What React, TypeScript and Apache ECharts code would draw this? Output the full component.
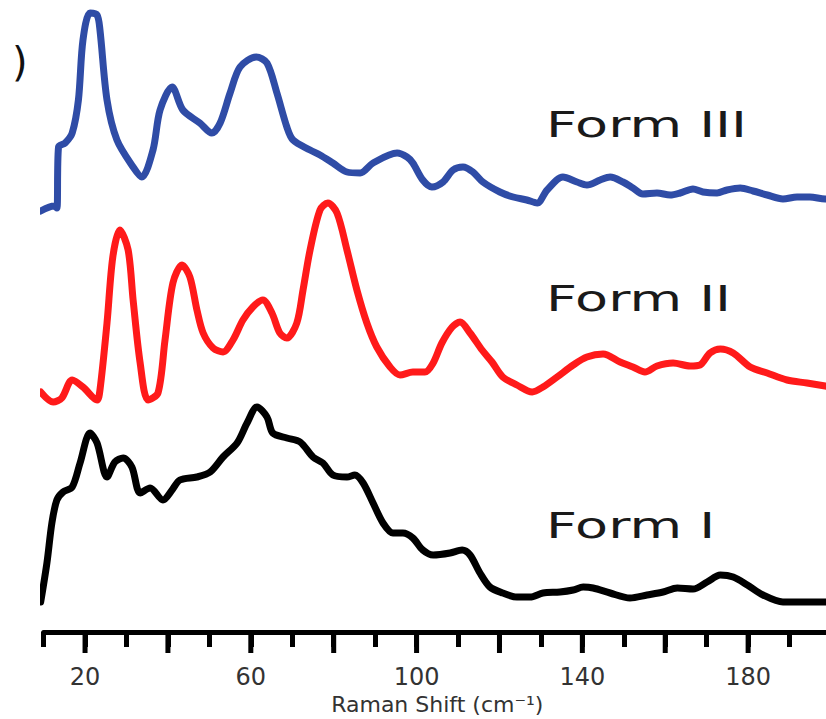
import React, { useEffect, useRef } from "react";
import * as echarts from "echarts";

// Raman shift (cm-1) and relative intensity (arbitrary, offset stacked units)
const formIII: [number, number][] = [
  [9.3, 421], [12.5, 426], [13.2, 424], [13.6, 485], [15.2, 489], [16.9, 499],
  [18.4, 532], [19.5, 592], [21.2, 619], [22.9, 617], [23.6, 602], [25.3, 532],
  [27.7, 492], [31.6, 465], [33.7, 455], [36.4, 482], [38.1, 522], [41.0, 545],
  [43.6, 522], [47.7, 509], [50.6, 499], [52.6, 509], [55.0, 539], [57.4, 565],
  [61.3, 575], [63.9, 569], [66.3, 539], [68.7, 505], [70.2, 492], [74.3, 482],
  [76.7, 477], [79.8, 469], [83.2, 460], [86.4, 459], [89.5, 469], [95.3, 479],
  [97.7, 475], [99.1, 469], [101.5, 452], [103.7, 445], [106.4, 450], [108.8, 462],
  [111.2, 465], [113.6, 460], [116.0, 450], [120.1, 440], [123.3, 435], [126.6, 432],
  [129.1, 429], [131.5, 442], [135.3, 455], [138.7, 450], [141.1, 447], [144.3, 452],
  [146.7, 455], [149.8, 450], [152.2, 444], [154.6, 438], [158.0, 439], [161.2, 437],
  [163.6, 439], [166.7, 443], [169.1, 440], [172.5, 439], [174.9, 442], [178.1, 444],
  [181.2, 441], [184.6, 437], [188.4, 433], [191.8, 435], [194.9, 435], [198.6, 433],
  [200, 433],
];

const formII: [number, number][] = [
  [9.3, 240], [12.3, 230], [14.4, 234], [16.9, 252], [19.5, 245], [22.9, 232],
  [23.6, 242], [25.3, 309], [26.7, 375], [28.4, 402], [30.4, 382], [31.6, 332],
  [33.3, 269], [35.2, 232], [37.6, 239], [39.3, 292], [41.2, 349], [43.4, 367],
  [45.3, 355], [47.0, 322], [48.5, 299], [50.9, 284], [53.3, 280], [55.7, 292],
  [58.1, 312], [60.5, 325], [62.9, 332], [65.1, 319], [67.0, 299], [68.7, 294],
  [71.1, 309], [72.6, 342], [74.3, 382], [76.7, 422], [78.6, 429], [80.8, 419],
  [83.2, 382], [85.6, 342], [88.0, 309], [90.4, 285], [93.6, 265], [96.0, 257],
  [99.1, 260], [102.0, 260], [104.0, 269], [106.1, 289], [108.6, 305], [110.5, 310],
  [112.9, 299], [115.8, 282], [118.2, 270], [120.8, 255], [124.2, 247], [127.9, 240],
  [130.5, 245], [133.9, 255], [137.8, 267], [141.1, 275], [145.0, 278], [149.1, 270],
  [152.2, 265], [155.1, 260], [158.0, 266], [161.9, 269], [166.0, 266], [168.4, 267],
  [170.8, 279], [173.3, 283], [176.4, 279], [180.5, 265], [184.6, 259], [189.4, 252],
  [194.2, 249], [198.6, 246], [200, 245],
];

const formI: [number, number][] = [
  [9.3, 30], [10.8, 69], [12.0, 109], [13.2, 132], [14.7, 140], [16.9, 145],
  [18.8, 169], [21.2, 199], [22.9, 189], [25.3, 155], [27.2, 170], [29.2, 174],
  [31.3, 165], [33.3, 139], [35.7, 144], [38.8, 132], [41.0, 142], [42.9, 152],
  [47.0, 155], [50.2, 160], [53.3, 175], [56.7, 189], [59.1, 209], [61.5, 225],
  [63.9, 215], [65.3, 199], [68.7, 194], [71.9, 190], [75.0, 175], [77.4, 169],
  [79.8, 157], [83.2, 155], [85.1, 157], [87.1, 149], [89.5, 129], [91.9, 109],
  [94.3, 99], [96.7, 99], [99.1, 94], [101.5, 82], [104.0, 77], [108.1, 79],
  [111.0, 82], [112.9, 77], [115.3, 59], [117.7, 45], [120.8, 39], [124.2, 35],
  [127.4, 35], [130.5, 39], [134.6, 40], [137.8, 42], [140.2, 45], [142.6, 44],
  [146.7, 39], [151.5, 34], [155.6, 37], [159.5, 40], [162.9, 44], [166.7, 43],
  [170.1, 50], [173.3, 57], [176.4, 55], [179.8, 47], [183.6, 37], [188.4, 30],
  [193.2, 30], [198.6, 30], [200, 30],
];

const labeledTicks = [20, 60, 100, 140, 180];
const longTicks = [20, 40, 60, 80, 100, 120, 140, 160, 180];
const seriesNames = ["Form III", "Form II", "Form I"];
const seriesColors = ["#2f4ca6", "#ff1a1a", "#000000"];

export default function App() {
  const ref = useRef<HTMLDivElement>(null);

  useEffect(() => {
    if (!ref.current) return;
    const chart = echarts.init(ref.current, undefined, { renderer: "svg" });
    const datasets = [formIII, formII, formI];

    const option: any = {
      animation: false,
      backgroundColor: "#ffffff",
      grid: {
        left: 43.6,
        right: 9,
        top: 0,
        bottom: 87,
        containLabel: false,
        outerBoundsMode: "none",
      },
      xAxis: {
        type: "value",
        min: 10,
        max: 200,
        interval: 10,
        name: "Raman Shift (cm⁻¹)",
        nameLocation: "middle",
        nameGap: 58,
        nameTextStyle: {
          fontFamily: "DejaVu Sans",
          fontSize: 22,
          color: "#333333",
        },
        axisLine: {
          show: true,
          lineStyle: { color: "#000", width: 5 },
        },
        axisTick: {
          show: true,
          length: 15,
          lineStyle: { color: "#000", width: 5 },
        },
        axisLabel: {
          margin: 33,
          fontFamily: "DejaVu Sans",
          fontSize: 24,
          color: "#333333",
          formatter: (v: number) => (labeledTicks.includes(v) ? String(v) : ""),
        },
        splitLine: { show: false },
      },
      yAxis: {
        type: "value",
        min: 0,
        max: 632,
        show: false,
      },
      series: [
        ...datasets.map((d, i) => ({
          name: seriesNames[i],
          type: "line",
          data: d,
          smooth: 0.3,
          symbol: "none",
          clip: false,
          lineStyle: { color: seriesColors[i], width: 7, join: "round", cap: "round" },
        })),
        {
          type: "custom",
          clip: false,
          data: longTicks.map((t) => [t, 0]),
          renderItem: (params: any, api: any) => {
            const p = api.coord([api.value(0), 0]);
            return {
              type: "rect",
              shape: { x: p[0] - 2.5, y: p[1], width: 5, height: 21 },
              style: { fill: "#000" },
            };
          },
          z: 3,
        },
      ],
      graphic: [
        {
          type: "text",
          x: 12,
          y: 62,
          style: {
            text: ")",
            font: '40px "DejaVu Sans"',
            fill: "#111",
            verticalAlign: "middle",
          },
        },
        {
          type: "text",
          x: 546,
          y: 124,
          scaleX: 1.5,
          style: {
            text: "Form III",
            font: '36px "DejaVu Sans"',
            fill: "#1a1a1a",
            verticalAlign: "middle",
          },
        },
        {
          type: "text",
          x: 546,
          y: 298,
          scaleX: 1.5,
          style: {
            text: "Form II",
            font: '36px "DejaVu Sans"',
            fill: "#1a1a1a",
            verticalAlign: "middle",
          },
        },
        {
          type: "text",
          x: 546,
          y: 525,
          scaleX: 1.5,
          style: {
            text: "Form I",
            font: '36px "DejaVu Sans"',
            fill: "#1a1a1a",
            verticalAlign: "middle",
          },
        },
      ],
    };

    chart.setOption(option);
    return () => chart.dispose();
  }, []);

  return (
    <div
      style={{
        position: "absolute",
        left: 0,
        top: 0,
        width: 826,
        height: 719,
        overflow: "hidden",
        background: "#fff",
      }}
    >
      <div ref={ref} style={{ width: 840, height: 719 }} />
    </div>
  );
}
